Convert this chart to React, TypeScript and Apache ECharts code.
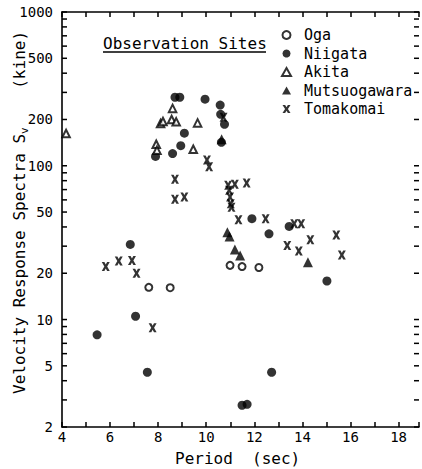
import React, { useEffect, useRef } from "react";
import * as echarts from "echarts";

// Axis ranges
const X_MIN = 4;
const X_MAX = 18.85;
const Y_MIN = 2;
const Y_MAX = 1000;

// Tick marks and labels
const xLabelValues = [4, 6, 8, 10, 12, 14, 16, 18];
const yTickValues = [
  2, 3, 4, 5, 6, 7, 8, 9,
  10, 20, 30, 40, 50, 60, 70, 80, 90,
  100, 200, 300, 400, 500, 600, 700, 800, 900, 1000,
];
const yLabelValues = [2, 5, 10, 20, 50, 100, 200, 500, 1000];

const siteNames = ["Oga", "Niigata", "Akita", "Mutsuogawara", "Tomakomai"];

// Oga
const ogaPeriod = [7.61, 8.5, 10.99, 11.49, 12.19];
const ogaSv = [16.2, 16.1, 22.5, 22.1, 21.8];

// Niigata
const niigataPeriod = [
  8.7, 8.9, 9.95, 10.58, 10.6, 10.76, 10.63, 9.09, 8.94, 8.6, 7.89,
  11.9, 12.61, 13.45, 15.02, 6.84, 7.06, 5.46, 7.55, 12.72, 11.49, 11.7,
];
const niigataSv = [
  279, 279, 271, 248, 216, 186, 142, 163, 135, 120, 115,
  45.3, 36.1, 40.3, 17.8, 30.8, 10.5, 7.95, 4.54, 4.54, 2.77, 2.81,
];

// Akita
const akitaPeriod = [4.17, 8.6, 8.1, 8.2, 8.56, 8.75, 9.64, 9.46, 7.92, 7.95];
const akitaSv = [162, 236, 188, 194, 200, 193, 190, 128, 138, 126];

// Mutsuogawara
const mutsuPeriod = [10.64, 10.88, 10.97, 11.19, 11.41, 14.23];
const mutsuSv = [149, 36.9, 34.7, 28.5, 26.1, 23.6];

// Tomakomai
const tomaPeriod = [
  10.03, 10.12, 10.72, 8.7, 8.7, 9.09, 10.91, 11.19, 11.68, 10.95, 10.99,
  11.02, 11.05, 11.34, 12.47, 13.66, 13.95, 13.37, 13.85, 14.33, 15.41,
  15.64, 5.82, 6.36, 6.91, 7.1, 7.77,
];
const tomaSv = [
  109, 98.5, 207, 81.7, 60.5, 62.6, 74.6, 75.7, 77.3, 69.2, 62.6,
  56.7, 53.7, 44.5, 45.3, 41.9, 41.9, 30.3, 27.9, 33.0, 35.5,
  26.3, 22.1, 24.0, 24.2, 20.0, 8.83,
];

const FONT = '"DejaVu Sans Mono", "Liberation Mono", monospace';
const INK = "#000";

// bold typewriter-style "x"
const CROSS =
  "path://M0,0L3.3,0L5,2.8L6.7,0L10,0L6.8,5L10,10L6.7,10L5,7.2L3.3,10L0,10L3.2,5Z";

const pairs = (xs: number[], ys: number[]) => xs.map((x, i) => [x, ys[i]]);

export default function App() {
  const ref = useRef<HTMLDivElement>(null);

  useEffect(() => {
    document.body.style.margin = "0";
    if (!ref.current) return;
    const chart = echarts.init(ref.current, null, { renderer: "svg" });

    const axisLineStyle = { color: INK, width: 1.6 };
    const tickStyle = { color: INK, width: 1.5 };

    const xAxisBase = {
      type: "value" as const,
      min: X_MIN,
      max: X_MAX,
      interval: 1,
      splitLine: { show: false },
      axisLine: { show: true, lineStyle: axisLineStyle },
      axisTick: { show: true, inside: true, length: 5, lineStyle: tickStyle },
    };

    chart.setOption({
      animation: false,
      backgroundColor: "#fff",
      grid: { left: 62, right: 1, top: 12, bottom: 42 },
      xAxis: [
        {
          ...xAxisBase,
          position: "bottom",
          axisLabel: {
            margin: 3,
            color: INK,
            fontFamily: FONT,
            fontSize: 14,
            formatter: (v: number) =>
              xLabelValues.includes(v) ? String(v) : "",
          },
        },
        {
          ...xAxisBase,
          position: "top",
          axisLabel: { show: false },
        },
      ],
      yAxis: {
        type: "log",
        logBase: 10,
        min: Y_MIN,
        max: Y_MAX,
        axisLine: { show: true, lineStyle: axisLineStyle },
        axisTick: { show: false },
        axisLabel: { show: false },
        splitLine: { show: false },
      },
      legend: {
        data: siteNames,
        orient: "vertical",
        left: 281,
        top: 27.5,
        padding: 0,
        itemWidth: 9,
        itemHeight: 8,
        itemGap: 3.5,
        selectedMode: false,
        textStyle: {
          color: INK,
          fontFamily: FONT,
          fontSize: 15,
          lineHeight: 15,
          padding: [0, 0, 0, 8],
        },
      },
      graphic: [
        {
          type: "text",
          x: 103,
          y: 43,
          style: {
            text: "Observation Sites",
            fill: INK,
            fontFamily: FONT,
            fontSize: 16,
            align: "left",
            verticalAlign: "middle",
          },
        },
        {
          type: "line",
          shape: { x1: 103, y1: 52, x2: 266, y2: 52 },
          style: { stroke: INK, lineWidth: 1.4 },
        },
        {
          type: "text",
          x: 19,
          y: 394,
          rotation: Math.PI / 2,
          style: {
            text: "Velocity Response Spectra S{sub|v}    (kine)",
            fill: INK,
            fontFamily: FONT,
            fontSize: 16,
            lineHeight: 22,
            align: "left",
            verticalAlign: "middle",
            rich: {
              sub: {
                fontFamily: FONT,
                fontSize: 11,
                lineHeight: 11,
                verticalAlign: "bottom",
                fill: INK,
              },
            },
          },
        },
        {
          type: "text",
          x: 175,
          y: 458,
          style: {
            text: "Period  (sec)",
            fill: INK,
            fontFamily: FONT,
            fontSize: 16,
            align: "left",
            verticalAlign: "middle",
          },
        },
      ],
      series: [
        {
          type: "scatter",
          name: "Oga",
          data: pairs(ogaPeriod, ogaSv),
          symbol: "circle",
          symbolSize: 7,
          itemStyle: { color: "#fff", borderColor: INK, borderWidth: 2 },
        },
        {
          type: "scatter",
          name: "Niigata",
          data: pairs(niigataPeriod, niigataSv),
          symbol: "circle",
          symbolSize: 9,
          itemStyle: { color: INK },
        },
        {
          type: "scatter",
          name: "Akita",
          data: pairs(akitaPeriod, akitaSv),
          symbol: "triangle",
          symbolSize: 7.5,
          itemStyle: { color: "#fff", borderColor: INK, borderWidth: 2 },
        },
        {
          type: "scatter",
          name: "Mutsuogawara",
          data: pairs(mutsuPeriod, mutsuSv),
          symbol: "triangle",
          symbolSize: 10,
          itemStyle: { color: INK },
        },
        {
          type: "scatter",
          name: "Tomakomai",
          data: pairs(tomaPeriod, tomaSv),
          symbol: CROSS,
          symbolSize: [8, 9],
          itemStyle: { color: INK },
        },
        {
          // log-axis ticks on both sides plus the value labels on the left
          type: "custom",
          name: "yTicks",
          silent: true,
          z: 5,
          data: yTickValues.map((v) => [X_MIN, v]),
          renderItem: (_params: any, api: any) => {
            const v = api.value(1);
            const l = api.coord([X_MIN, v]);
            const r = api.coord([X_MAX, v]);
            const children: any[] = [
              {
                type: "line",
                shape: { x1: l[0], y1: l[1], x2: l[0] + 5, y2: l[1] },
                style: { stroke: INK, lineWidth: 1.5 },
              },
              {
                type: "line",
                shape: { x1: r[0] - 5, y1: r[1], x2: r[0], y2: r[1] },
                style: { stroke: INK, lineWidth: 1.5 },
              },
            ];
            if (yLabelValues.includes(v)) {
              children.push({
                type: "text",
                x: l[0] - 9,
                y: l[1],
                style: {
                  text: String(v),
                  fill: INK,
                  fontFamily: FONT,
                  fontSize: 14,
                  align: "right",
                  verticalAlign: "middle",
                },
              });
            }
            return { type: "group", children };
          },
        },
      ],
    });

    return () => chart.dispose();
  }, []);

  return <div ref={ref} style={{ width: 422, height: 469 }} />;
}
